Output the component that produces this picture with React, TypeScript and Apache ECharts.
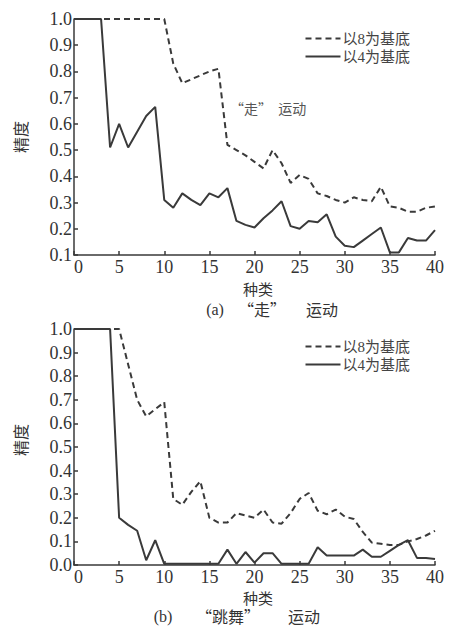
import React, { useEffect, useRef } from "react";
import * as echarts from "echarts";

const xCats = Array.from({ length: 41 }, (_, i) => i);
const walkBase8 = [1.0, 1.0, 1.0, 1.0, 1.0, 1.0, 1.0, 1.0, 1.0, 1.0, 1.0, 0.83, 0.755, 0.77, 0.785, 0.8, 0.81, 0.52, 0.5, 0.48, 0.455, 0.43, 0.5, 0.45, 0.375, 0.405, 0.39, 0.335, 0.325, 0.31, 0.3, 0.32, 0.31, 0.305, 0.36, 0.285, 0.28, 0.265, 0.265, 0.28, 0.285];
const walkBase4 = [1.0, 1.0, 1.0, 1.0, 0.51, 0.6, 0.51, 0.57, 0.63, 0.665, 0.31, 0.28, 0.335, 0.31, 0.29, 0.335, 0.32, 0.355, 0.23, 0.215, 0.205, 0.24, 0.27, 0.305, 0.21, 0.2, 0.23, 0.225, 0.255, 0.17, 0.135, 0.13, 0.155, 0.18, 0.205, 0.11, 0.11, 0.165, 0.155, 0.155, 0.195];
const danceBase8 = [1.0, 1.0, 1.0, 1.0, 1.0, 1.0, 0.85, 0.7, 0.63, 0.66, 0.69, 0.28, 0.255, 0.31, 0.355, 0.2, 0.18, 0.18, 0.22, 0.21, 0.2, 0.235, 0.18, 0.175, 0.22, 0.28, 0.305, 0.23, 0.215, 0.235, 0.205, 0.195, 0.14, 0.095, 0.09, 0.085, 0.085, 0.1, 0.11, 0.125, 0.145];
const danceBase4 = [1.0, 1.0, 1.0, 1.0, 1.0, 0.2, 0.17, 0.145, 0.02, 0.105, 0.005, 0.005, 0.005, 0.005, 0.005, 0.005, 0.005, 0.065, 0.005, 0.055, 0.01, 0.05, 0.05, 0.005, 0.005, 0.005, 0.005, 0.075, 0.04, 0.04, 0.04, 0.04, 0.065, 0.035, 0.035, 0.06, 0.085, 0.105, 0.03, 0.03, 0.025];

const seriesNames = ["以8为基底", "以4为基底"];
const yLabel = "精度";
const xLabel = "种类";
const captionA = ["(a)", "“走”", "运动"];
const captionB = ["(b)", "“跳舞”", "运动"];
const annotationA = "“走”  运动";

const INK = "#3a3a3a";
const NUM_FONT = "Liberation Serif, Times New Roman, serif";
const CJK_FONT = "Noto Sans CJK SC, sans-serif";
const LEG_FONT = "Liberation Serif, Noto Sans CJK SC";

function makeXAxis(gridIndex: number) {
  return {
    type: "value",
    gridIndex,
    min: 0,
    max: 40,
    interval: 5,
    axisLine: { show: true, lineStyle: { color: INK, width: 1.5 } },
    axisTick: { show: true, inside: true, length: 4, lineStyle: { color: INK, width: 1.5 } },
    axisLabel: {
      color: "#333",
      fontSize: 18,
      fontFamily: NUM_FONT,
      margin: 5,
      lineHeight: 14,
      alignMinLabel: "left",
    },
    splitLine: { show: false },
  };
}

function makeYAxis(gridIndex: number, min: number) {
  return {
    type: "value",
    gridIndex,
    min,
    max: 1.0,
    interval: 0.1,
    axisLine: { show: true, lineStyle: { color: INK, width: 1.5 } },
    axisTick: { show: true, inside: true, length: 4, lineStyle: { color: INK, width: 1.5 } },
    axisLabel: {
      color: "#333",
      fontSize: 18,
      fontFamily: NUM_FONT,
      margin: 2,
      lineHeight: 10,
      formatter: (v: number) => v.toFixed(1),
    },
    splitLine: { show: false },
  };
}

function makeSeries(name: string, ys: number[], idx: number, dashed: boolean) {
  return {
    name,
    type: "line",
    xAxisIndex: idx,
    yAxisIndex: idx,
    data: ys.map((v, i) => [xCats[i], v]),
    symbol: "none",
    showSymbol: false,
    lineStyle: { color: INK, width: 2, type: dashed ? [6, 4] : "solid" },
    itemStyle: { color: INK },
  };
}

export default function App() {
  const ref = useRef<HTMLDivElement>(null);
  useEffect(() => {
    if (!ref.current) return;
    const chart = echarts.init(ref.current, undefined, { renderer: "svg" });
    const legendCommon = {
      orient: "vertical",
      right: 37,
      itemWidth: 35,
      itemHeight: 10,
      itemGap: 3,
      itemStyle: { opacity: 0 },
      textStyle: { fontSize: 15, color: "#444", fontFamily: LEG_FONT, padding: [0, 0, 0, -3] },
      data: seriesNames,
      selectedMode: false,
    };
    const txt = (x: number, y: number, text: string, size: number, rot = 0, align = "center", fill = "#333", font = CJK_FONT) => ({
      type: "text",
      x,
      y,
      rotation: rot,
      style: { text, fill, fontSize: size, fontFamily: font, align, verticalAlign: "middle", lineHeight: size },
    });
    chart.setOption({
      animation: false,
      backgroundColor: "#ffffff",
      grid: [
        { left: 74, top: 19, width: 361, height: 236 },
        { left: 74, top: 329, width: 361, height: 236 },
      ],
      xAxis: [makeXAxis(0), makeXAxis(1)],
      yAxis: [makeYAxis(0, 0.1), makeYAxis(1, 0.0)],
      legend: [
        { ...legendCommon, top: 26 },
        { ...legendCommon, top: 334 },
      ],
      series: [
        makeSeries(seriesNames[0], walkBase8, 0, true),
        makeSeries(seriesNames[1], walkBase4, 0, false),
        makeSeries(seriesNames[0], danceBase8, 1, true),
        makeSeries(seriesNames[1], danceBase4, 1, false),
      ],
      graphic: [
        txt(20, 137, yLabel, 16, Math.PI / 2),
        txt(20, 440, yLabel, 16, Math.PI / 2),
        txt(258, 288, xLabel, 15),
        txt(258, 597, xLabel, 15),
        txt(215, 309, captionA[0], 16, 0, "center", "#333", NUM_FONT),
        txt(262, 309, captionA[1], 16),
        txt(322, 309, captionA[2], 16),
        txt(163, 616, captionB[0], 16, 0, "center", "#333", NUM_FONT),
        txt(228, 616, captionB[1], 16),
        txt(304, 616, captionB[2], 16),
        txt(230, 108, annotationA, 14, 0, "left", "#555"),
      ],
    });
    return () => chart.dispose();
  }, []);
  return (
    <div
      ref={ref}
      style={{ position: "fixed", left: 0, top: 0, width: 452, height: 628, background: "#fff" }}
    />
  );
}
